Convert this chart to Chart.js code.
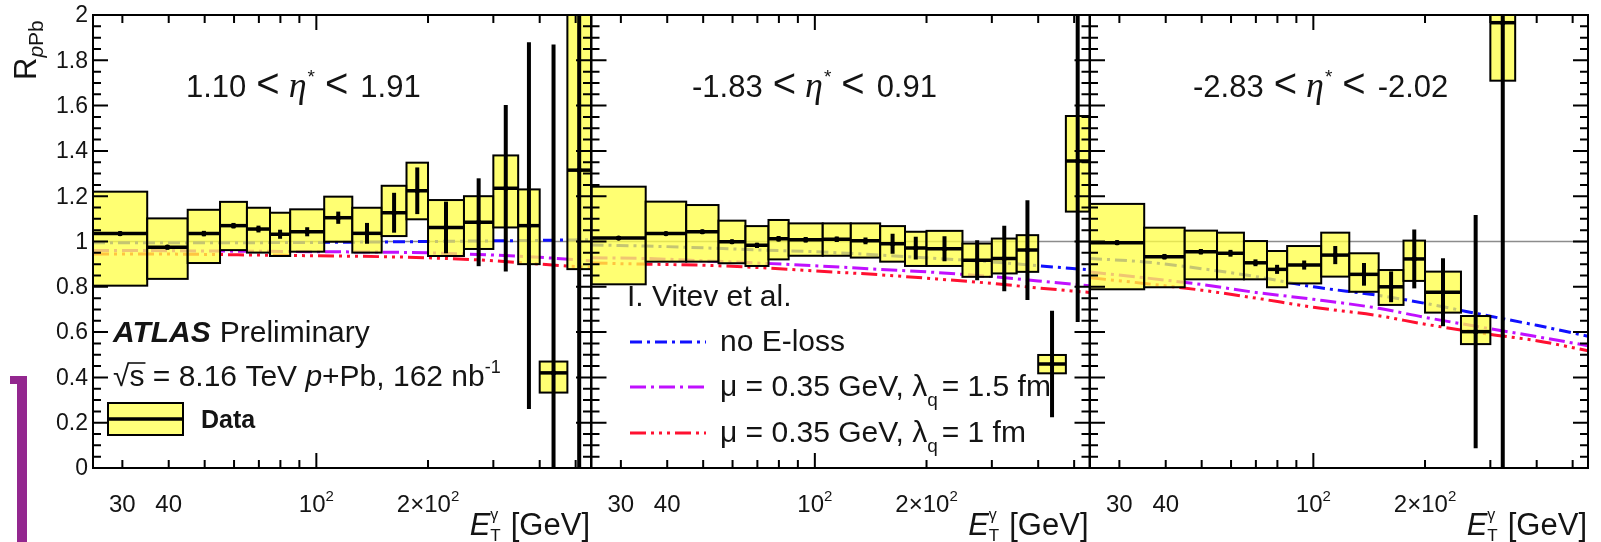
<!DOCTYPE html>
<html>
<head>
<meta charset="utf-8">
<title>RpPb vs ET</title>
<script src="https://cdn.jsdelivr.net/npm/chart.js@4.4.1/dist/chart.umd.min.js"></script>
<style>
  html, body { margin: 0; padding: 0; background: #fff; }
  #wrap { position: relative; width: 1601px; height: 542px; overflow: hidden; background: #fff; }
  #wrap canvas { position: absolute; left: 0; top: 0; }
  .bracket-top { position: absolute; left: 10px; top: 376px; width: 17px; height: 8px; background: #93278f; }
  .bracket-side { position: absolute; left: 17px; top: 376px; width: 10px; height: 170px; background: #93278f; }
</style>
</head>
<body>
<div id="wrap">
  <canvas id="fwd" width="1601" height="542"></canvas>
  <canvas id="mid" width="1601" height="542"></canvas>
  <canvas id="bwd" width="1601" height="542"></canvas>
  <div class="bracket-top"></div>
  <div class="bracket-side"></div>
</div>
<script>
// E_T bin edges [GeV], same binning in all three eta* slices
const binEdges = [25, 35, 45, 55, 65, 75, 85, 105, 125, 150, 175, 200, 250, 300, 350, 400, 475, 550];

// 1.10 < eta* < 1.91
const fwdValue   = [1.035, 0.975, 1.035, 1.07, 1.055, 1.032, 1.043, 1.105, 1.036, 1.127, 1.224, 1.062, 1.085, 1.235, 1.07, 0.42, 1.315];
const fwdStat    = [0.01, 0.01, 0.012, 0.012, 0.015, 0.02, 0.02, 0.027, 0.046, 0.088, 0.103, 0.114, 0.194, 0.368, 0.81, 1.45, 1.7];
const fwdSysLow  = [0.805, 0.835, 0.905, 0.962, 0.951, 0.936, 0.955, 0.999, 0.951, 1.024, 1.098, 0.936, 0.967, 1.062, 0.9, 0.333, 0.878];
const fwdSysHigh = [1.22, 1.102, 1.14, 1.175, 1.149, 1.127, 1.142, 1.198, 1.149, 1.246, 1.348, 1.183, 1.2, 1.38, 1.23, 0.47, 2.2];

// -1.83 < eta* < 0.91
const midValue   = [1.015, 1.035, 1.043, 0.999, 0.983, 1.012, 1.008, 1.01, 1.003, 0.99, 0.971, 0.968, 0.917, 0.925, 0.962, 0.459, 1.355];
const midStat    = [0.008, 0.008, 0.01, 0.01, 0.012, 0.012, 0.012, 0.012, 0.015, 0.044, 0.05, 0.055, 0.088, 0.145, 0.22, 0.235, 0.71];
const midSysLow  = [0.811, 0.911, 0.911, 0.904, 0.892, 0.921, 0.937, 0.937, 0.929, 0.911, 0.892, 0.892, 0.844, 0.859, 0.866, 0.418, 1.132];
const midSysHigh = [1.242, 1.176, 1.161, 1.092, 1.068, 1.095, 1.08, 1.08, 1.08, 1.068, 1.043, 1.047, 0.991, 1.013, 1.028, 0.499, 1.554];

// -2.83 < eta* < -2.02 (no entries above 350 GeV)
const bwdValue   = [0.995, 0.933, 0.955, 0.948, 0.906, 0.877, 0.896, 0.94, 0.855, 0.80, 0.923, 0.776, 0.602, 1.966, null, null, null];
const bwdStat    = [0.01, 0.012, 0.012, 0.015, 0.015, 0.02, 0.02, 0.04, 0.05, 0.068, 0.13, 0.15, 0.515, 2.2, null, null, null];
const bwdSysLow  = [0.789, 0.798, 0.833, 0.833, 0.833, 0.798, 0.815, 0.845, 0.778, 0.72, 0.826, 0.686, 0.547, 1.71, null, null, null];
const bwdSysHigh = [1.166, 1.061, 1.048, 1.039, 1.002, 0.958, 0.98, 1.039, 0.948, 0.874, 1.004, 0.867, 0.671, 2.2, null, null, null];

// Vitev et al. curves, sampled at these E_T values
const theoryEt = [25, 35, 50, 70, 100, 150, 200, 300, 400, 550];
const fwdNoEloss = [0.995, 0.995, 0.995, 0.995, 0.996, 0.998, 1.0, 1.003, 1.005, 1.008];
const fwdMu15    = [0.96, 0.96, 0.958, 0.957, 0.955, 0.953, 0.95, 0.94, 0.93, 0.915];
const fwdMu10    = [0.945, 0.945, 0.943, 0.94, 0.937, 0.933, 0.928, 0.915, 0.9, 0.885];
const midNoEloss = [0.985, 0.98, 0.972, 0.963, 0.955, 0.94, 0.928, 0.91, 0.893, 0.875];
const midMu15    = [0.928, 0.925, 0.915, 0.905, 0.893, 0.877, 0.866, 0.845, 0.826, 0.805];
const midMu10    = [0.905, 0.9, 0.895, 0.885, 0.87, 0.853, 0.838, 0.815, 0.795, 0.775];
const bwdNoEloss = [0.925, 0.91, 0.88, 0.845, 0.80, 0.762, 0.727, 0.67, 0.63, 0.582];
const bwdMu15    = [0.865, 0.84, 0.81, 0.775, 0.745, 0.705, 0.665, 0.615, 0.58, 0.54];
const bwdMu10    = [0.84, 0.815, 0.785, 0.75, 0.71, 0.672, 0.635, 0.59, 0.562, 0.518];

// axis ticks and labels
const xShortTicks = [30, 40, 50, 60, 70, 80, 90, 200, 300, 400, 500];
const xLongTicks = [100];
const xLabelValues = [30, 40, 100, 200];
const xLabelBase = ['30', '40', '10', '2\u00d710'];
const xLabelExp = ['', '', '2', '2'];
const yLabelValues = [0, 0.2, 0.4, 0.6, 0.8, 1, 1.2, 1.4, 1.6, 1.8, 2];
const yLabelText = ['0', '0.2', '0.4', '0.6', '0.8', '1', '1.2', '1.4', '1.6', '1.8', '2'];

// page layout
const W = 1601, H = 542;
const PLOT_TOP = 15, PLOT_BOTTOM = 468, PANEL_W = 498;
const SANS = '"Liberation Sans", Arial, Helvetica, sans-serif';
const SERIF = '"Liberation Serif", "DejaVu Serif", serif';
const INK = '#141414';
const BLUE = '#1010ff', MAGENTA = '#c010ff', RED = '#ff1030';
const DASH_BLUE = [12, 5, 3, 5];
const DASH_MAG = [16, 5, 3, 5];
const DASH_RED = [16, 5, 3, 5, 3, 5, 3, 5];

// rich text: list of pieces {t, f, dy, gap, keep}; keep = next piece stacks on top of this one
function richWidth(ctx, parts) {
  let w = 0, held = 0;
  for (const p of parts) {
    ctx.font = p.f;
    const pw = ctx.measureText(p.t).width + (p.gap || 0);
    if (p.keep) { held = pw; continue; }
    w += Math.max(pw, held);
    held = 0;
  }
  return w;
}
function drawRich(ctx, x, y, parts, align) {
  const w = richWidth(ctx, parts);
  let cx = align === 'right' ? x - w : align === 'center' ? x - w / 2 : x;
  let held = 0;
  ctx.textBaseline = 'alphabetic';
  ctx.textAlign = 'left';
  for (const p of parts) {
    ctx.font = p.f;
    ctx.fillText(p.t, cx, y + (p.dy || 0));
    const pw = ctx.measureText(p.t).width + (p.gap || 0);
    if (p.keep) { held = pw; continue; }
    cx += Math.max(pw, held);
    held = 0;
  }
  return cx;
}

function etaParts(lo, hi) {
  return [
    { t: lo, f: `31px ${SANS}`, gap: 10 },
    { t: '<', f: `40px ${SANS}`, gap: 9 },
    { t: '\u03b7', f: `italic 36px ${SERIF}`, gap: 1 },
    { t: '*', f: `19px ${SANS}`, dy: -14, gap: 10 },
    { t: '<', f: `40px ${SANS}`, gap: 12 },
    { t: hi, f: `31px ${SANS}` }
  ];
}

function legendLine(ctx, y, color, dash) {
  ctx.save();
  ctx.strokeStyle = color;
  ctx.lineWidth = 3;
  ctx.setLineDash(dash);
  ctx.beginPath();
  ctx.moveTo(630, y);
  ctx.lineTo(706, y);
  ctx.stroke();
  ctx.restore();
}

// texts that belong to a single slice
const panelText = {
  fwd(ctx) {
    ctx.fillStyle = INK;
    drawRich(ctx, 113, 342, [
      { t: 'ATLAS', f: `italic bold 30px ${SANS}`, gap: 9 },
      { t: 'Preliminary', f: `30px ${SANS}` }
    ]);
    // sqrt(s) with the bar over s
    ctx.font = `30px ${SANS}`;
    const rootW = ctx.measureText('\u221a').width;
    const sW = ctx.measureText('s').width;
    drawRich(ctx, 113, 386, [
      { t: '\u221a', f: `30px ${SANS}` },
      { t: 's = 8.16 TeV ', f: `30px ${SANS}` },
      { t: 'p', f: `italic 30px ${SANS}` },
      { t: '+Pb, 162 nb', f: `30px ${SANS}` },
      { t: '-1', f: `18px ${SANS}`, dy: -13 }
    ]);
    ctx.strokeStyle = INK;
    ctx.lineWidth = 1.6;
    ctx.beginPath();
    ctx.moveTo(113 + rootW - 1, 363);
    ctx.lineTo(113 + rootW + sW + 1, 363);
    ctx.stroke();
    // Data legend entry
    ctx.fillStyle = 'rgb(255,255,122)';
    ctx.fillRect(108, 403, 75, 32);
    ctx.strokeStyle = '#000';
    ctx.lineWidth = 2;
    ctx.strokeRect(108, 403, 75, 32);
    ctx.lineWidth = 3.5;
    ctx.beginPath();
    ctx.moveTo(108, 419);
    ctx.lineTo(183, 419);
    ctx.stroke();
    ctx.fillStyle = INK;
    ctx.font = `bold 25px ${SANS}`;
    ctx.fillText('Data', 201, 428);
  },
  mid(ctx) {
    ctx.fillStyle = INK;
    ctx.font = `30px ${SANS}`;
    ctx.fillText('I. Vitev et al.', 627, 306);
    legendLine(ctx, 342, BLUE, DASH_BLUE);
    legendLine(ctx, 387, MAGENTA, DASH_MAG);
    legendLine(ctx, 433, RED, DASH_RED);
    ctx.fillStyle = INK;
    ctx.font = `30px ${SANS}`;
    ctx.fillText('no E-loss', 720, 351);
    drawRich(ctx, 720, 396, [
      { t: '\u03bc = 0.35 GeV, \u03bb', f: `30px ${SANS}` },
      { t: 'q', f: `19px ${SANS}`, dy: 10, gap: 4 },
      { t: '= 1.5 fm', f: `30px ${SANS}` }
    ]);
    drawRich(ctx, 720, 442, [
      { t: '\u03bc = 0.35 GeV, \u03bb', f: `30px ${SANS}` },
      { t: 'q', f: `19px ${SANS}`, dy: 10, gap: 4 },
      { t: '= 1 fm', f: `30px ${SANS}` }
    ]);
  },
  bwd() {}
};

const slices = [
  { id: 'fwd', left: 93, value: fwdValue, stat: fwdStat, sysLow: fwdSysLow, sysHigh: fwdSysHigh,
    noEloss: fwdNoEloss, mu15: fwdMu15, mu10: fwdMu10, eta: ['1.10', '1.91'], etaX: 186, yLabels: true },
  { id: 'mid', left: 591.5, value: midValue, stat: midStat, sysLow: midSysLow, sysHigh: midSysHigh,
    noEloss: midNoEloss, mu15: midMu15, mu10: midMu10, eta: ['-1.83', '0.91'], etaX: 692, yLabels: false },
  { id: 'bwd', left: 1090, value: bwdValue, stat: bwdStat, sysLow: bwdSysLow, sysHigh: bwdSysHigh,
    noEloss: bwdNoEloss, mu15: bwdMu15, mu10: bwdMu10, eta: ['-2.83', '-2.02'], etaX: 1193, yLabels: false }
];

function decorFor(slice) {
  return {
    id: 'decor_' + slice.id,
    // yellow systematic boxes and error bars go on top of the curves, under the markers
    beforeDatasetDraw(chart, args) {
      if (args.index !== 0) return;
      const ctx = chart.ctx, a = chart.chartArea;
      const xs = chart.scales.x, ys = chart.scales.y;
      ctx.save();
      ctx.beginPath();
      ctx.rect(a.left, a.top, a.right - a.left, a.bottom - a.top);
      ctx.clip();
      slice.value.forEach((v, i) => {
        if (v == null) return;
        const x0 = xs.getPixelForValue(binEdges[i]);
        const x1 = xs.getPixelForValue(binEdges[i + 1]);
        const yLo = ys.getPixelForValue(slice.sysLow[i]);
        const yHi = ys.getPixelForValue(slice.sysHigh[i]);
        ctx.fillStyle = 'rgba(255,255,70,0.76)';
        ctx.fillRect(x0, yHi, x1 - x0, yLo - yHi);
        ctx.strokeStyle = '#000';
        ctx.lineWidth = 2;
        ctx.strokeRect(x0, yHi, x1 - x0, yLo - yHi);
      });
      ctx.strokeStyle = '#000';
      slice.value.forEach((v, i) => {
        if (v == null) return;
        const x0 = xs.getPixelForValue(binEdges[i]);
        const x1 = xs.getPixelForValue(binEdges[i + 1]);
        const xc = xs.getPixelForValue(Math.sqrt(binEdges[i] * binEdges[i + 1]));
        const y = ys.getPixelForValue(v);
        ctx.lineWidth = 3.5;
        ctx.beginPath();
        ctx.moveTo(x0, y);
        ctx.lineTo(x1, y);
        ctx.stroke();
        ctx.lineWidth = 4;
        ctx.beginPath();
        ctx.moveTo(xc, ys.getPixelForValue(v - slice.stat[i]));
        ctx.lineTo(xc, ys.getPixelForValue(v + slice.stat[i]));
        ctx.stroke();
      });
      ctx.restore();
    },
    afterDraw(chart) {
      const ctx = chart.ctx, a = chart.chartArea;
      const xs = chart.scales.x, ys = chart.scales.y;
      ctx.save();
      ctx.strokeStyle = '#000';
      ctx.lineWidth = 2;
      ctx.strokeRect(a.left, a.top, a.right - a.left, a.bottom - a.top);
      // ticks on all four sides, pointing inwards
      ctx.beginPath();
      const xTick = (v, len) => {
        const px = xs.getPixelForValue(v);
        ctx.moveTo(px, a.bottom); ctx.lineTo(px, a.bottom - len);
        ctx.moveTo(px, a.top); ctx.lineTo(px, a.top + len);
      };
      xShortTicks.forEach(v => xTick(v, 8));
      xLongTicks.forEach(v => xTick(v, 15));
      for (let k = 0; k <= 40; k++) {
        const py = ys.getPixelForValue(k * 0.05);
        const len = k % 4 === 0 ? 15 : 8;
        ctx.moveTo(a.left, py); ctx.lineTo(a.left + len, py);
        ctx.moveTo(a.right, py); ctx.lineTo(a.right - len, py);
      }
      ctx.stroke();

      // tick labels
      ctx.fillStyle = INK;
      xLabelValues.forEach((v, i) => {
        const parts = [{ t: xLabelBase[i], f: `24px ${SANS}` }];
        if (xLabelExp[i]) parts.push({ t: xLabelExp[i], f: `15px ${SANS}`, dy: -11 });
        drawRich(ctx, xs.getPixelForValue(v), 512, parts, 'center');
      });
      if (slice.yLabels) {
        ctx.font = `23px ${SANS}`;
        ctx.textAlign = 'right';
        ctx.textBaseline = 'middle';
        yLabelValues.forEach((v, i) => {
          ctx.fillText(yLabelText[i], a.left - 5, ys.getPixelForValue(v) + 1);
        });
        // R_pPb, reading upwards
        ctx.save();
        ctx.translate(36, 80);
        ctx.rotate(-Math.PI / 2);
        drawRich(ctx, 0, 0, [
          { t: 'R', f: `31px ${SANS}` },
          { t: 'p', f: `italic 21px ${SANS}`, dy: 7 },
          { t: 'Pb', f: `21px ${SANS}`, dy: 7 }
        ]);
        ctx.restore();
      }
      // E_T^gamma [GeV]
      drawRich(ctx, a.right - 1, 535, [
        { t: 'E', f: `italic 31px ${SANS}` },
        { t: '\u03b3', f: `16px ${SANS}`, dy: -15, keep: true },
        { t: 'T', f: `17px ${SANS}`, dy: 6, gap: 10 },
        { t: '[GeV]', f: `31px ${SANS}` }
      ], 'right');
      // eta* range
      drawRich(ctx, slice.etaX, 97, etaParts(slice.eta[0], slice.eta[1]));
      panelText[slice.id](ctx);
      ctx.restore();
    }
  };
}

function curve(vals) {
  return theoryEt.map((x, i) => ({ x, y: vals[i] }));
}

slices.forEach(slice => {
  const right = slice.left + PANEL_W;
  const centres = binEdges.slice(0, -1).map((e, i) => Math.sqrt(e * binEdges[i + 1]));
  const points = centres.map((x, i) => ({ x, y: slice.value[i] })).filter(p => p.y != null);
  const lineStyle = { type: 'line', pointRadius: 0, borderWidth: 3, fill: false, cubicInterpolationMode: 'monotone' };
  new Chart(document.getElementById(slice.id), {
    type: 'scatter',
    data: {
      datasets: [
        { label: 'Data', data: points, pointRadius: 2.6, pointBorderWidth: 0,
          backgroundColor: '#000', borderColor: '#000' },
        Object.assign({ label: 'no E-loss', data: curve(slice.noEloss), borderColor: BLUE, borderDash: DASH_BLUE }, lineStyle),
        Object.assign({ label: 'lambda_q = 1.5 fm', data: curve(slice.mu15), borderColor: MAGENTA, borderDash: DASH_MAG }, lineStyle),
        Object.assign({ label: 'lambda_q = 1 fm', data: curve(slice.mu10), borderColor: RED, borderDash: DASH_RED }, lineStyle),
        { type: 'line', label: 'unity', data: [{ x: 25, y: 1 }, { x: 550, y: 1 }],
          borderColor: '#8c8c8c', borderWidth: 1.5, pointRadius: 0, fill: false }
      ]
    },
    options: {
      responsive: false,
      animation: false,
      events: [],
      layout: { padding: { left: slice.left, right: W - right, top: PLOT_TOP, bottom: H - PLOT_BOTTOM } },
      plugins: { legend: { display: false }, tooltip: { enabled: false } },
      scales: {
        x: { type: 'logarithmic', min: 25, max: 550, display: false },
        y: { type: 'linear', min: 0, max: 2, display: false }
      }
    },
    plugins: [decorFor(slice)]
  });
});
</script>
</body>
</html>
